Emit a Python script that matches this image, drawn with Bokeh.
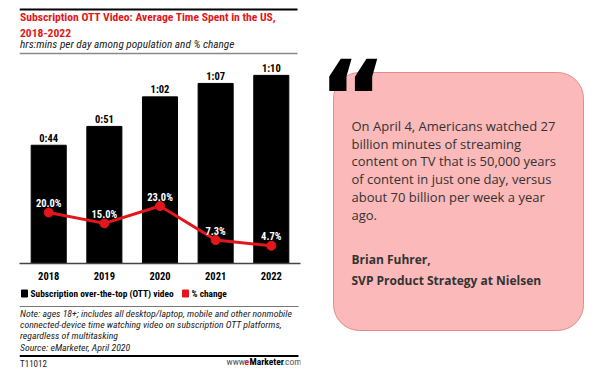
from bokeh.plotting import figure
from bokeh.layouts import row, column
from bokeh.models import FactorRange, Range1d, ColumnDataSource
from bokeh.core.properties import value
from bokeh.embed import file_html
from bokeh.resources import INLINE

# ---- data ----
years = ["2018", "2019", "2020", "2021", "2022"]
minutes = [44, 51, 62, 67, 70]
pct_change = [20.0, 15.0, 23.0, 7.3, 4.7]

title_lines = ["Subscription OTT Video: Average Time Spent in the US,", "2018-2022"]
subtitle = "hrs:mins per day among population and % change"
legend_labels = ["Subscription over-the-top (OTT) video", "% change"]
note_lines = [
    "Note: ages 18+; includes all desktop/laptop, mobile and other nonmobile",
    "connected-device time watching video on subscription OTT platforms,",
    "regardless of multitasking",
    "Source: eMarketer, April 2020",
]
quote_lines = [
    "On April 4, Americans watched 27",
    "billion minutes of streaming",
    "content on TV that is 50,000 years",
    "of content in just one day, versus",
    "about 70 billion per week a year",
    "ago.",
]
author_lines = ["Brian Fuhrer,", "SVP Product Strategy at Nielsen"]

RED = "#e3161b"
NARROW = "Roboto Condensed"
BL, BR = 19, 8  # left/right borders of the left panel frames


def blank(w, h, xr, yr, **kw):
    p = figure(width=w, height=h, x_range=xr, y_range=yr, output_backend="svg",
               toolbar_location=None, min_border=0, **kw)
    p.axis.visible = False
    p.grid.visible = False
    p.outline_line_color = None
    p.background_fill_color = None
    p.border_fill_color = None
    return p


# ---- header ----
hdr = blank(308, 58, Range1d(BL, 308 - BR), Range1d(58, 0),
            min_border_left=BL, min_border_right=BR)
hdr.segment(x0=[19], y0=[9], x1=[297], y1=[9], line_color="black", line_width=2)
hdr.text(x=[19.5, 19.5], y=[16.5, 32], text=title_lines, text_font=value(NARROW),
         text_font_style="bold", text_font_size="11.6px", text_color=RED,
         text_baseline="middle")
hdr.text(x=[19.5], y=[43.5], text=[subtitle], text_font=value(NARROW),
         text_font_style="italic", text_font_size="11.3px", text_color="#222",
         text_baseline="middle")
hdr.segment(x0=[19], y0=[53], x1=[297], y1=[53], line_color="#888", line_width=1.5)

# ---- chart ----
src = ColumnDataSource(dict(
    year=years, minutes=minutes, pct=pct_change,
    mlab=[f"{m // 60}:{m % 60:02d}" for m in minutes],
    plab=[f"{v:.1f}%" for v in pct_change],
))
ch = figure(width=308, height=224, x_range=FactorRange(factors=years, range_padding=0.01),
            y_range=Range1d(0, 208 / 2.727), output_backend="svg",
            toolbar_location=None, min_border_left=BL, min_border_right=BR,
            min_border_top=0, min_border_bottom=16)
ch.extra_y_ranges = {"pct": Range1d(-3.5, -3.5 + 208 / 2.2)}
ch.outline_line_color = None
ch.grid.visible = False
ch.yaxis.visible = False
ch.background_fill_color = None
ch.border_fill_color = None
ax = ch.xaxis[0]
ax.axis_line_color = "#444"
ax.axis_line_width = 1.5
ax.major_tick_line_color = None
ax.minor_tick_line_color = None
ax.major_label_standoff = 2
ax.major_label_text_font = NARROW
ax.major_label_text_font_style = "bold"
ax.major_label_text_font_size = "10.5px"
ax.major_label_text_color = "black"

ch.vbar(x="year", top="minutes", width=0.63, source=src, color="black")
ch.text(x="year", y="minutes", text="mlab", source=src, text_align="center",
        text_baseline="middle", y_offset=-7, text_font=value(NARROW),
        text_font_style="bold", text_font_size="10.5px", text_color="black")
ch.line(x="year", y="pct", source=src, y_range_name="pct", line_color=RED,
        line_width=3)
ch.scatter(x="year", y="pct", source=src, y_range_name="pct", size=9,
           fill_color=RED, line_color=RED)
ch.text(x="year", y="pct", text="plab", source=src, y_range_name="pct",
        text_align="center", text_baseline="middle", y_offset=-9,
        text_font=value(NARROW), text_font_style="bold", text_font_size="10.5px",
        text_color="white")

# ---- footer ----
ftr = blank(308, 95, Range1d(BL, 308 - BR), Range1d(377, 282),
            min_border_left=BL, min_border_right=BR)
ftr.rect(x=[24, 185], y=[293, 293], width=6, height=7, color=["black", RED])
ftr.text(x=[30, 191], y=[293, 293], text=legend_labels, text_font=value(NARROW),
         text_font_style="bold", text_font_size="9.4px", text_color="black",
         text_baseline="middle")
ftr.segment(x0=[19], y0=[306], x1=[298], y1=[306], line_color="#777", line_width=1.2)
ftr.text(x=[19.5] * 4, y=[313.3, 324.3, 335, 346.5], text=note_lines,
         text_font=value(NARROW), text_font_style="italic", text_font_size="9.8px",
         text_color="#222", text_baseline="middle")
ftr.segment(x0=[19], y0=[355.5], x1=[298], y1=[355.5], line_color="black", line_width=2)
ftr.text(x=[19.5], y=[363.3], text=["T11012"], text_font=value(NARROW),
         text_font_size="9px", text_color="#222", text_baseline="middle")
ftr.text(x=[226], y=[361], text=["www."], text_font=value(NARROW),
         text_font_size="9.5px", text_color="#555", text_baseline="middle")
ftr.text(x=[244], y=[361], text=["e"], text_font=value(NARROW), text_font_style="bold",
         text_font_size="9.5px", text_color=RED, text_baseline="middle")
ftr.text(x=[249], y=[361], text=["Marketer"], text_font=value(NARROW),
         text_font_style="bold", text_font_size="9.5px", text_color="black",
         text_baseline="middle")
ftr.text(x=[282], y=[361], text=[".com"], text_font=value(NARROW),
         text_font_size="9.5px", text_color="#555", text_baseline="middle")

left = column(hdr, ch, ftr, spacing=0)

# ---- quote ----
q = blank(292, 377, Range1d(308, 600), Range1d(377, 0))
q.quad(left=[333], right=[583], top=[72], bottom=[330], border_radius=26,
       fill_color="#fbb9b9", line_color="#e58a8a", line_width=1)
q.text(x=[318], y=[97], text=["\u201c"], text_font=value("DejaVu Sans"),
       text_font_style="bold", text_font_size="104px", text_color="black",
       text_baseline="alphabetic")
q.text(x=[351] * 6, y=[125, 143.3, 160.8, 178.3, 196, 214], text=quote_lines,
       text_font=value("Open Sans"), text_font_size="13px", text_color="#333",
       text_baseline="middle")
q.text(x=[351, 351], y=[259.3, 280], text=author_lines, text_font=value("Open Sans"),
       text_font_style="bold", text_font_size="12px", text_color="#333",
       text_baseline="middle")

layout = row(left, q, spacing=0)
open("out.html", "w").write(file_html(layout, INLINE))
